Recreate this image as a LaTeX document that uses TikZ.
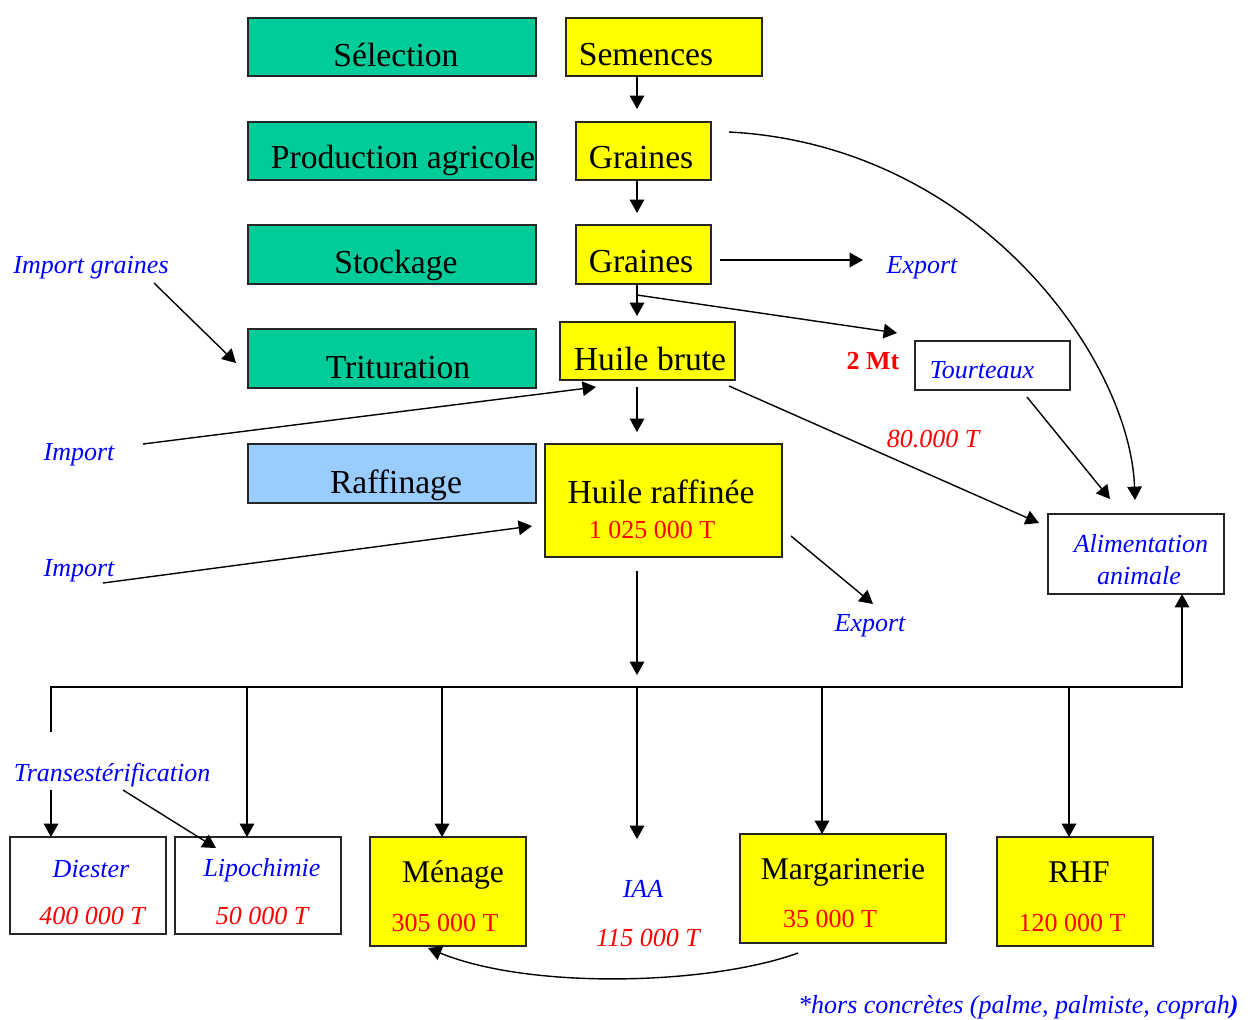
\documentclass[tikz,border=0pt]{standalone}
\usepackage{fontspec}
\setmainfont{Liberation Serif}
\usetikzlibrary{arrows.meta,fit}
\definecolor{boxgreen}{RGB}{0,204,153}
\definecolor{boxblue}{RGB}{153,204,255}
\definecolor{boxyellow}{RGB}{255,255,0}
\definecolor{txtblue}{RGB}{0,0,255}
\definecolor{txtred}{RGB}{255,0,0}
\tikzset{
 box/.style={draw=black!85, line width=0.75pt, inner sep=0pt, outer sep=0pt},
 gbox/.style={box, fill=boxgreen},
 ybox/.style={box, fill=boxyellow},
 bbox/.style={box, fill=boxblue},
 wbox/.style={box, fill=white},
 big/.style={font=\fontsize{16.8}{19}\selectfont, anchor=base, inner sep=0pt},
 mid/.style={font=\fontsize{15.8}{18}\selectfont, anchor=base, inner sep=0pt},
 lab/.style={font=\fontsize{13}{15}\selectfont\itshape, text=txtblue, anchor=base, inner sep=0pt},
 num/.style={font=\fontsize{13}{15}\selectfont, text=txtred, anchor=base, inner sep=0pt},
 numi/.style={font=\fontsize{13}{15}\selectfont\itshape, text=txtred, anchor=base, inner sep=0pt},
 arr/.style={draw=black, line width=0.7pt, -{Triangle[length=6.7pt,width=7.3pt]}},
 ln/.style={draw=black, line width=0.7pt},
}
\begin{document}
\begin{tikzpicture}[x=0.5pt,y=-0.5pt]
\useasboundingbox (0,0) rectangle (1256,1019);
\fill[white] (0,0) rectangle (1256,1019);

% ---- left column (stages)
\node[gbox, fit={(248,18)(536,76)}] (sel) {};
\node[gbox, fit={(248,122)(536,180)}] (prod) {};
\node[gbox, fit={(248,225)(536,284)}] (stock) {};
\node[gbox, fit={(248,329)(536,388)}] (trit) {};
\node[bbox, fit={(248,444)(536,503)}] (raff) {};
\node[big] (tsel) at (396,66) {Sélection};
\node[big] (tprod) at (403,168) {Production agricole};
\node[big] (tstock) at (396,273) {Stockage};
\node[big] (ttrit) at (398,378) {Trituration};
\node[big] (traff) at (396,493) {Raffinage};

% ---- product column
\node[ybox, fit={(566,18)(762,76)}] (sem) {};
\node[ybox, fit={(576,122)(711,180)}] (gr1) {};
\node[ybox, fit={(576,225)(711,284)}] (gr2) {};
\node[ybox, fit={(560,322)(735,380)}] (hb) {};
\node[ybox, fit={(545,444)(782,557)}] (hr) {};
\node[big] (tsem) at (646,65) {Semences};
\node[big] (tgr1) at (641,168) {Graines};
\node[big] (tgr2) at (641,272) {Graines};
\node[big] (thb) at (650,370) {Huile brute};
\node[big] (thr) at (661,503) {Huile raffinée};
\node[num] (nhr) at (652,538) {1 025 000 T};

% ---- right side
\node[wbox, fit={(915,341)(1070,390)}] (tour) {};
\node[lab] (ttour) at (982,378) {Tourteaux};
\node[wbox, fit={(1048,514)(1224,594)}] (alim) {};
\node[lab] (talim1) at (1141,552) {Alimentation};
\node[lab] (talim2) at (1139,584) {animale};
\node[lab] (exp1) at (922,273) {Export};
\node[lab] (exp2) at (870,631) {Export};
\node[font=\fontsize{13}{15}\selectfont\bfseries, text=txtred, anchor=base, inner sep=0pt] (mt) at (873,369) {2 Mt};
\node[numi] (n80) at (933,447) {80.000 T};

% ---- left labels
\node[lab] (impg) at (91,273) {Import graines};
\node[lab] (imp1) at (79,460) {Import};
\node[lab] (imp2) at (79,576) {Import};

% ---- bottom
\node[wbox, fit={(10,837)(166,934)}] (dies) {};
\node[wbox, fit={(175,837)(341,934)}] (lipo) {};
\node[ybox, fit={(370,837)(526,946)}] (men) {};
\node[ybox, fit={(740,834)(946,943)}] (marg) {};
\node[ybox, fit={(997,837)(1153,946)}] (rhf) {};
\node[lab] (trans) at (112,781) {Transestérification};
\node[lab] (tdies) at (91,877) {Diester};
\node[numi] (ndies) at (92,924) {400 000 T};
\node[lab] (tlipo) at (262,876) {Lipochimie};
\node[numi] (nlipo) at (262,924) {50 000 T};
\node[mid] (tmen) at (453,882) {Ménage};
\node[num] (nmen) at (445,931) {305 000 T};
\node[lab] (tiaa) at (643,897) {IAA};
\node[numi] (niaa) at (648,946) {115 000 T};
\node[mid] (tmarg) at (843,879) {Margarinerie};
\node[num] (nmarg) at (830,927) {35 000 T};
\node[mid] (trhf) at (1079,882) {RHF};
\node[num] (nrhf) at (1072,931) {120 000 T};
\node[lab, anchor=base east] (foot) at (1239,1013) {*hors concrètes (palme, palmiste, coprah{\bfseries)}};

% ---- coordinates for free ends
\coordinate (a1) at (637,109);
\coordinate (a2) at (637,213);
\coordinate (a3) at (637,316);
\coordinate (a3s) at (637,295);
\coordinate (atour) at (897,333);
\coordinate (aexs) at (720,260);
\coordinate (aexe) at (863,260);
\coordinate (cvs) at (729,132);
\coordinate (cve) at (1135,500);
\coordinate (tas) at (1027,397);
\coordinate (tae) at (1110,499);
\coordinate (has) at (729,386);
\coordinate (hae) at (1039,523);
\coordinate (igs) at (154,283);
\coordinate (ige) at (236,363);
\coordinate (i1s) at (143,444);
\coordinate (i1e) at (596,387);
\coordinate (i2s) at (103,583);
\coordinate (i2e) at (532,526);
\coordinate (h1s) at (637,387);
\coordinate (h1e) at (637,432);
\coordinate (e2s) at (791,536);
\coordinate (e2e) at (873,604);
\coordinate (bs) at (637,571);
\coordinate (be) at (637,675);
\coordinate (stub) at (51,732);
\coordinate (busR) at (1182,687);
\coordinate (b1) at (247,687);
\coordinate (b2) at (442,687);
\coordinate (b3) at (637,687);
\coordinate (b4) at (822,687);
\coordinate (b5) at (1069,687);
\coordinate (iaaE) at (637,839);
\coordinate (ds) at (51,790);
\coordinate (ts) at (123,790);
\coordinate (te) at (216,848);
\coordinate (ms) at (798,953);
\coordinate (me) at (428,948);

% ---- connectors
\draw[arr] (a1 |- sem.south) -- (a1);
\draw[arr] (a2 |- gr1.south) -- (a2);
\draw[arr] (a3 |- gr2.south) -- (a3);
\draw[arr] (a3s) -- (atour);
\draw[arr] (aexs) -- (aexe);
\draw[arr] (cvs) .. controls (979,145) and (1130,360) .. (cve);
\draw[arr] (tas) -- (tae);
\draw[arr] (has) -- (hae);
\draw[arr] (igs) -- (ige);
\draw[arr] (i1s) -- (i1e);
\draw[arr] (i2s) -- (i2e);
\draw[arr] (h1s) -- (h1e);
\draw[arr] (e2s) -- (e2e);
\draw[arr] (bs) -- (be);
\draw[arr] (stub) |- (busR) -- (busR |- alim.south);
\draw[arr] (b1) -- (b1 |- lipo.north);
\draw[arr] (b2) -- (b2 |- men.north);
\draw[arr] (b3) -- (iaaE);
\draw[arr] (b4) -- (b4 |- marg.north);
\draw[arr] (b5) -- (b5 |- rhf.north);
\draw[arr] (ds) -- (ds |- dies.north);
\draw[arr] (ts) -- (te);
\draw[arr] (ms) .. controls (710,985) and (530,990) .. (me);
\end{tikzpicture}
\end{document}
